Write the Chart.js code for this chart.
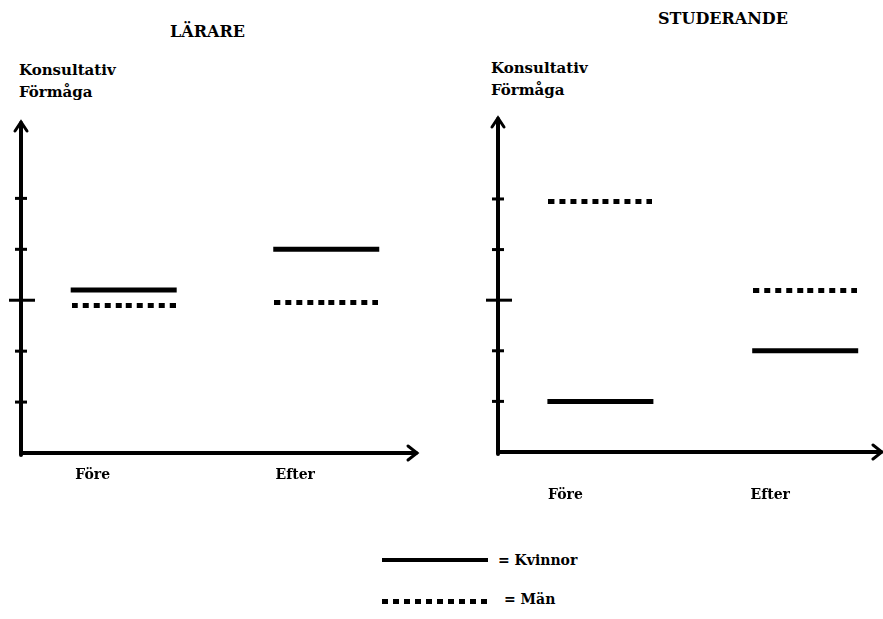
<!DOCTYPE html>
<html>
<head>
<meta charset="utf-8">
<script src="https://cdn.jsdelivr.net/npm/chart.js@4"></script>
<style>
  html, body { margin: 0; padding: 0; background: #fff; }
  body { width: 883px; height: 619px; position: relative; overflow: hidden;
         font-family: "DejaVu Serif", serif; font-weight: bold; color: #000; }
  .box { position: absolute; }
  .txt { position: absolute; white-space: nowrap; font-size: 15px; line-height: 22px; }
  .ttl { position: absolute; white-space: nowrap; font-size: 16px; }
</style>
</head>
<body>
<div class="ttl" id="t1" style="left:170px; top:22px;">LÄRARE</div>
<div class="ttl" id="t2" style="left:658px; top:9px;">STUDERANDE</div>
<div class="txt" style="left:19px; top:59px;">Konsultativ<br>Förmåga</div>
<div class="txt" style="left:491px; top:57px;">Konsultativ<br>Förmåga</div>

<div class="box" style="left:0; top:0; width:440px; height:530px;"><canvas id="c1" width="440" height="530"></canvas></div>
<div class="box" style="left:440px; top:0; width:443px; height:530px;"><canvas id="c2" width="443" height="530"></canvas></div>

<div class="box" style="left:382px; top:558px; width:106px; height:4px; background:#000;"></div>
<div class="txt" style="left:498px; top:549px; font-size:14px;">= Kvinnor</div>
<div class="box" style="left:382px; top:599px; width:106px; height:5px; background:repeating-linear-gradient(90deg,#000 0 6px,transparent 6px 11px);"></div>
<div class="txt" style="left:504px; top:588px; font-size:14px;">= Män</div>

<script>
// ---- data ----
const categories = ["Före", "Efter"];
const seriesNames = ["Kvinnor", "Män"];
const lararKvinnor = [3.2, 4.0];
const lararMan = [2.9, 2.95];
const studKvinnor = [1.0, 2.0];
const studMan = [4.95, 3.2];
const yTickValues = [1, 2, 3, 4, 5];
const majorTick = 3;

// dotted segment image (style only)
function dottedImage(width) {
  const c = document.createElement('canvas');
  c.width = width; c.height = 5;
  const g = c.getContext('2d');
  g.fillStyle = '#000';
  const n = 10, w = 6, step = (width - w) / (n - 1);
  for (let i = 0; i < n; i++) g.fillRect(Math.round(i * step), 0, w, 5);
  return c;
}
const dotImg = dottedImage(104);

const axesPlugin = {
  id: 'handAxes',
  afterDraw(chart) {
    const ctx = chart.ctx, a = chart.chartArea, ys = chart.scales.y;
    ctx.save();
    ctx.strokeStyle = '#000';
    ctx.lineCap = 'round';
    // vertical axis
    ctx.lineWidth = 4;
    ctx.beginPath();
    ctx.moveTo(a.left, a.bottom + 2);
    ctx.lineTo(a.left, a.top + 1);
    ctx.stroke();
    ctx.lineWidth = 3;
    ctx.beginPath();
    ctx.moveTo(a.left - 6, a.top + 9);
    ctx.lineTo(a.left, a.top);
    ctx.lineTo(a.left + 6, a.top + 9);
    ctx.stroke();
    // horizontal axis
    ctx.lineWidth = 4;
    ctx.beginPath();
    ctx.moveTo(a.left, a.bottom);
    ctx.lineTo(a.right - 1, a.bottom);
    ctx.stroke();
    ctx.lineWidth = 3;
    ctx.beginPath();
    ctx.moveTo(a.right - 9, a.bottom - 7);
    ctx.lineTo(a.right, a.bottom);
    ctx.lineTo(a.right - 9, a.bottom + 7);
    ctx.stroke();
    // y ticks
    ctx.lineCap = 'butt';
    ctx.lineWidth = 3;
    yTickValues.forEach(v => {
      const py = ys.getPixelForValue(v);
      const l = v === majorTick ? 12 : 6, r = v === majorTick ? 14 : 6;
      ctx.beginPath();
      ctx.moveTo(a.left - l, py);
      ctx.lineTo(a.left + r, py);
      ctx.stroke();
    });
    ctx.restore();
  }
};

function makeChart(id, kv, man, cfg) {
  return new Chart(document.getElementById(id), {
    type: 'line',
    data: {
      datasets: [
        { label: seriesNames[0], data: kv.map((v, i) => ({ x: i, y: v })),
          showLine: false, pointStyle: 'line', pointRadius: 53, pointHoverRadius: 53,
          borderColor: '#000', backgroundColor: '#000', borderWidth: 5 },
        { label: seriesNames[1], data: man.map((v, i) => ({ x: i, y: v })),
          showLine: false, pointStyle: dotImg, pointRadius: 52,
          borderColor: '#000', backgroundColor: '#000' }
      ]
    },
    options: {
      responsive: false,
      animation: false,
      events: [],
      layout: { padding: cfg.padding, autoPadding: false },
      plugins: { legend: { display: false }, tooltip: { enabled: false }, title: { display: false } },
      scales: {
        x: {
          type: 'linear', min: cfg.xmin, max: cfg.xmax,
          border: { display: false },
          grid: { display: false, drawTicks: false },
          afterBuildTicks: s => { s.ticks = categories.map((c, i) => ({ value: i })); },
          afterFit: s => { s.height = cfg.xh; s.paddingLeft = 0; s.paddingRight = 0; },
          ticks: {
            color: '#000', padding: cfg.labelPad, labelOffset: cfg.labelOffset, maxRotation: 0,
            font: { family: 'DejaVu Serif', size: 14, weight: 'bold' },
            callback: v => categories[v] ?? ''
          }
        },
        y: {
          min: 0, max: cfg.ymax,
          border: { display: false },
          grid: { display: false, drawTicks: false },
          ticks: { display: false },
          afterFit: s => { s.width = 0; }
        }
      }
    },
    plugins: [axesPlugin]
  });
}

makeChart('c1', lararKvinnor, lararMan, {
  padding: { left: 21, top: 122, right: 23, bottom: 0 },
  xh: 77, xmin: -0.507, xmax: 1.448, ymax: 6.5, labelPad: 14, labelOffset: -31
});
makeChart('c2', studKvinnor, studMan, {
  padding: { left: 58, top: 118, right: 1, bottom: 0 },
  xh: 78, xmin: -0.5, xmax: 1.375, ymax: 6.6, labelPad: 35, labelOffset: -35
});
</script>
</body>
</html>
